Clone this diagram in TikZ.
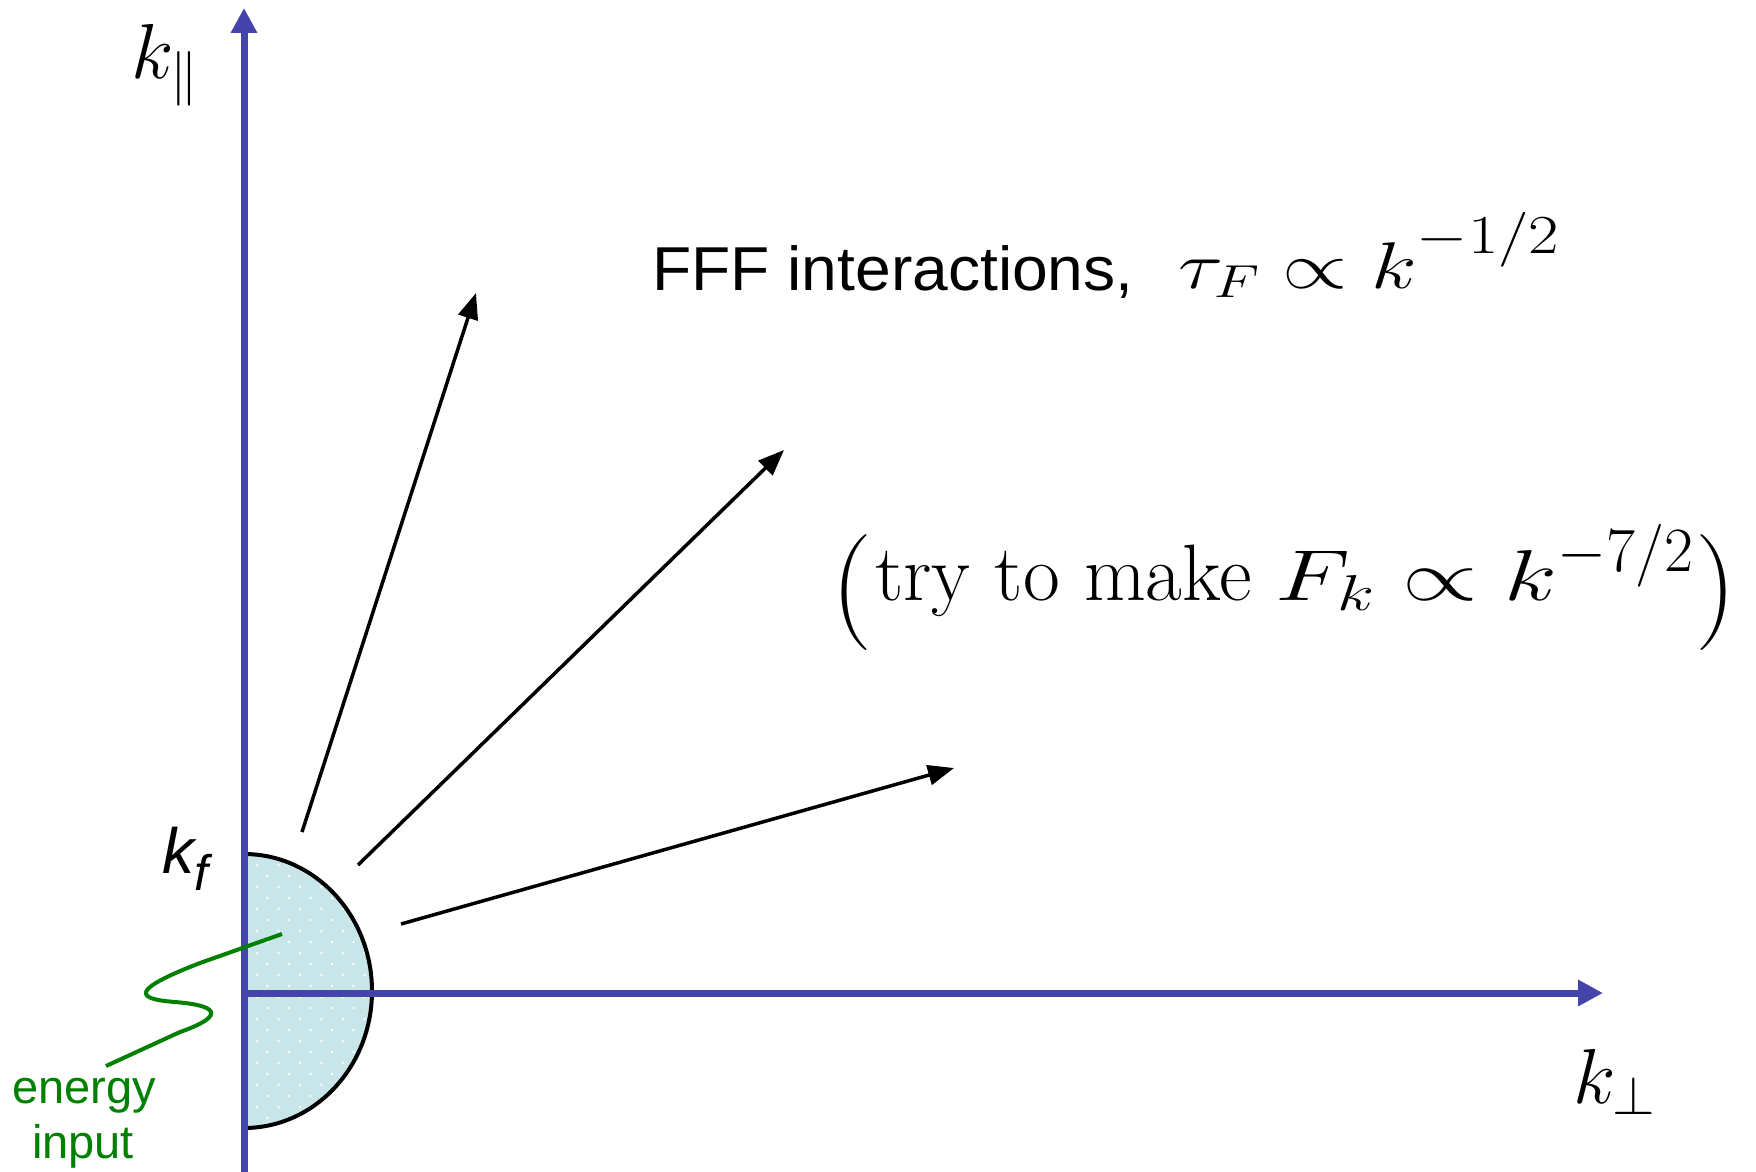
\RequirePackage{fix-cm}
\documentclass[tikz,border=0pt]{standalone}
\usepackage{graphicx}
\usepackage{fontspec}
\newfontfamily\arialfont{Liberation Sans}
\usetikzlibrary{arrows.meta}
\definecolor{axisblue}{HTML}{4444AA}
\definecolor{diskfill}{HTML}{C8E6EA}
\definecolor{energygreen}{HTML}{008000}
\newcommand{\fsz}[1]{\fontsize{#1}{#1}\selectfont}
\newcommand{\bigparenglyph}[1]{\raisebox{-21pt}{\fsz{116}#1}}
\tikzset{
  axisline/.style={draw=axisblue, line width=7pt, -{Triangle[length=25pt,width=25pt]}, color=axisblue},
  fluxarrow/.style={draw=black, line width=3.5pt, -{Triangle[length=26pt,width=20pt]}},
  diskedge/.style={draw=black, line width=4pt},
  wiggle/.style={draw=energygreen, line width=4pt},
  greentext/.style={text=energygreen, inner sep=0pt, anchor=base, font={\arialfont\fsz{47}}},
  mathlabel/.style={inner sep=0pt, anchor=base west}
}
\begin{document}
\begin{tikzpicture}[x=1pt, y=-1pt]
\useasboundingbox (0,0) rectangle (1756,1172);
% half disk
\fill[diskfill] (244,1128) arc[start angle=90, end angle=-90, x radius=128, y radius=137] -- cycle;
\begin{scope}
  \clip (244,1128) arc[start angle=90, end angle=-90, x radius=128, y radius=137] -- cycle;
  \foreach \i in {0,...,26}{
    \foreach \j in {0,...,6}{
      \fill[white] ({235.5+10.5*mod(\i+1,2)+21.5*\j},{854+11*\i}) circle[radius=1.4];
    }
  }
\end{scope}
\draw[diskedge] (244,1128) arc[start angle=90, end angle=-90, x radius=128, y radius=137];
% axes
\coordinate (O) at (244,993);
\coordinate (ybot) at (244,1172);
\coordinate (ytip) at (244,8);
\coordinate (xtip) at (1603,993);
\draw[axisline] (ybot) -- (ytip);
\draw[axisline] (O) -- (xtip);
% flux arrows
\coordinate (a1s) at (302,832); \coordinate (a1e) at (476,293);
\coordinate (a2s) at (358,865); \coordinate (a2e) at (784,450);
\coordinate (a3s) at (401,924); \coordinate (a3e) at (954,768);
\draw[fluxarrow] (a1s) -- (a1e);
\draw[fluxarrow] (a2s) -- (a2e);
\draw[fluxarrow] (a3s) -- (a3e);
% energy input wiggle
\coordinate (w0) at (282,934);
\coordinate (w5) at (106,1066);
\draw[wiggle] (w0) -- (200,963) .. controls (130,990) and (135,999) .. (175,1002)
   .. controls (225,1006) and (220,1018) .. (180,1032) -- (w5);
% labels
\node[mathlabel, font={\fsz{78}}] (kpar) at (131,78) {$k_{\|}$};
\node[mathlabel, font={\fsz{78}}] (kperp) at (1573,1103) {$k_{\perp}$};
\node[mathlabel, font={\arialfont\itshape\fsz{64}}] (kf) at (162,873) {k\raisebox{-17pt}{\fsz{50}f}};
\node[mathlabel, font={\arialfont\fsz{62}}] (fff) at (652,290) {\scalebox{1.035}[1]{FFF interactions,}};
\node[mathlabel] (tau) at (1178,288) {\scalebox{1.27}[1]{\fsz{66}$\tau_F \propto k$}\raisebox{35pt}{\scalebox{1.2}[1]{\fsz{55}$-1/2$}}};
\node[mathlabel] (try) at (831,600) {\bigparenglyph{(}\kern3pt\fsz{80}try to make \scalebox{1.35}[1]{\fsz{72}$F_k \propto k$}\raisebox{29pt}{\fsz{63}$-7/2$}\kern2pt\bigparenglyph{)}};
\node[greentext] (energy) at (84,1103) {energy};
\node[greentext] (input) at (83,1158) {input};
\end{tikzpicture}
\end{document}
